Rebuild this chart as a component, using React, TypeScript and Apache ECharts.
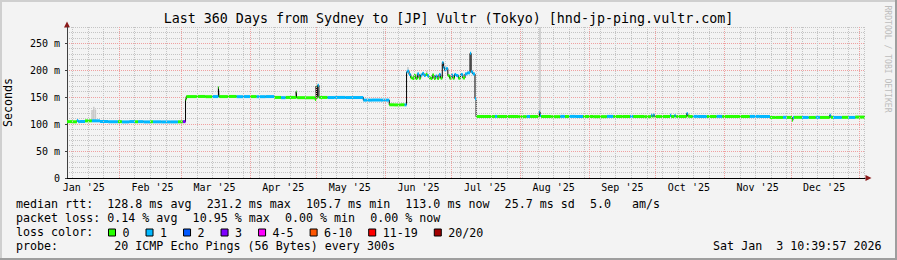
import { useEffect, useRef } from "react";
import * as echarts from "echarts";

const FONT = "'DejaVu Sans Mono', 'Liberation Mono', monospace";

const TITLE = "Last 360 Days from Sydney to [JP] Vultr (Tokyo) [hnd-jp-ping.vultr.com]";
const END_TIME = "2026-01-03 10:39:57";
const SPAN_DAYS = 360;
const DATE_TEXT = "Sat Jan  3 10:39:57 2026";
const WATERMARK = "RRDTOOL / TOBI OETIKER";
const Y_NAME = "Seconds";

const monthLabels = ["Jan '25", "Feb '25", "Mar '25", "Apr '25", "May '25", "Jun '25", "Jul '25", "Aug '25", "Sep '25", "Oct '25", "Nov '25", "Dec '25"];
const monthLabelTimes = ["2025-01-16", "2025-02-16", "2025-03-16", "2025-04-16", "2025-05-16", "2025-06-16", "2025-07-16", "2025-08-16", "2025-09-16", "2025-10-16", "2025-11-16", "2025-12-16"];
const monthGridTimes = ["2025-02-01", "2025-03-01", "2025-04-01", "2025-05-01", "2025-06-01", "2025-07-01", "2025-08-01", "2025-09-01", "2025-10-01", "2025-11-01", "2025-12-01", "2026-01-01"];
const FIRST_WEEK_LINE = "2025-01-11";

const Y_MAX = 280;
const Y_MAJOR = 50;
const Y_MINOR = 10;

const lossNames = ["0", "1", "2", "3", "4-5", "6-10", "11-19", "20/20"];
const lossColors = ["#26ff00", "#00b8ff", "#0059ff", "#7e00ff", "#ff00ff", "#ff5500", "#ff0000", "#a10000"];

// [end of interval, median rtt (ms), loss bucket index]
const medianWinter: [string, number, number][] = [
  ["2025-01-08 11", 104.5, 0],
  ["2025-01-11 00", 104.5, 0],
  ["2025-01-12 22", 104.2, 0],
  ["2025-01-13 12", 106.5, 1],
  ["2025-01-14 08", 104.5, 1],
  ["2025-01-16 14", 104.8, 1],
  ["2025-01-19 16", 106.0, 0],
  ["2025-01-23 08", 106.0, 1],
  ["2025-01-27 00", 104.8, 1],
  ["2025-01-31 10", 104.3, 1],
  ["2025-02-02 05", 104.5, 0],
  ["2025-02-05 12", 104.0, 1],
  ["2025-02-08 03", 104.6, 1],
  ["2025-02-09 12", 104.3, 0],
  ["2025-02-12 00", 104.5, 1],
  ["2025-02-14 22", 104.0, 1],
  ["2025-02-16 05", 104.3, 0],
  ["2025-02-20 00", 104.2, 1],
  ["2025-02-24 00", 104.0, 1],
  ["2025-02-27 12", 104.0, 1],
  ["2025-03-01 17", 104.2, 0],
  ["2025-03-02 22", 104.5, 3],
];

const medianSpring: [string, number, number][] = [
  ["2025-03-03 06", 146.0, 0],
  ["2025-03-08 00", 151.0, 0],
  ["2025-03-12 00", 151.2, 0],
  ["2025-03-15 00", 150.8, 0],
  ["2025-03-17 18", 151.0, 1],
  ["2025-03-18 00", 168.0, 0],
  ["2025-03-18 06", 151.0, 0],
  ["2025-03-22 00", 151.0, 0],
  ["2025-03-26 00", 151.2, 0],
  ["2025-03-29 00", 150.8, 1],
  ["2025-04-01 00", 151.0, 1],
  ["2025-04-04 00", 151.0, 0],
  ["2025-04-08 00", 150.8, 1],
  ["2025-04-12 00", 151.0, 1],
  ["2025-04-15 00", 149.4, 0],
  ["2025-04-17 00", 149.0, 1],
  ["2025-04-21 20", 149.4, 0],
  ["2025-04-22 01", 160.0, 0],
  ["2025-04-22 06", 149.2, 0],
  ["2025-04-26 00", 149.0, 0],
  ["2025-04-30 08", 148.8, 0],
  ["2025-04-30 20", 145.7, 0],
  ["2025-05-01 02", 170.0, 0],
  ["2025-05-01 12", 149.4, 0],
  ["2025-05-02 02", 172.0, 1],
  ["2025-05-02 08", 149.4, 0],
  ["2025-05-06 00", 149.4, 0],
  ["2025-05-09 00", 149.2, 1],
  ["2025-05-14 00", 149.4, 1],
  ["2025-05-17 00", 149.2, 1],
  ["2025-05-22 03", 149.2, 1],
  ["2025-05-26 00", 144.4, 1],
  ["2025-05-30 00", 144.6, 1],
  ["2025-06-02 20", 144.4, 1],
  ["2025-06-05 00", 135.8, 0],
  ["2025-06-08 00", 135.6, 0],
  ["2025-06-09 18", 135.8, 0],
  ["2025-06-10 15", 135.6, 1],
];

const medianSummer: [string, number, number][] = [
  ["2025-06-11 00", 196.5, 1],
  ["2025-06-11 18", 198.0, 1],
  ["2025-06-12 12", 192.0, 1],
  ["2025-06-13 06", 186.0, 0],
  ["2025-06-14 00", 184.5, 0],
  ["2025-06-14 18", 190.0, 0],
  ["2025-06-15 12", 184.5, 0],
  ["2025-06-16 06", 193.0, 1],
  ["2025-06-17 00", 185.0, 0],
  ["2025-06-17 18", 191.0, 1],
  ["2025-06-18 12", 194.0, 1],
  ["2025-06-19 06", 190.0, 1],
  ["2025-06-20 00", 192.0, 0],
  ["2025-06-20 18", 189.5, 1],
  ["2025-06-21 12", 186.0, 0],
  ["2025-06-22 06", 184.5, 0],
  ["2025-06-23 00", 191.0, 0],
  ["2025-06-23 18", 184.5, 0],
  ["2025-06-24 12", 189.0, 1],
  ["2025-06-25 06", 184.5, 0],
  ["2025-06-26 00", 192.0, 1],
  ["2025-06-26 18", 185.0, 0],
  ["2025-06-27 06", 214.0, 1],
  ["2025-06-27 18", 205.0, 1],
  ["2025-06-28 12", 200.0, 1],
  ["2025-06-29 06", 203.0, 1],
  ["2025-06-30 00", 190.0, 0],
  ["2025-06-30 18", 185.0, 0],
  ["2025-07-01 12", 191.0, 1],
  ["2025-07-02 06", 185.0, 0],
  ["2025-07-03 00", 192.0, 1],
  ["2025-07-04 00", 190.0, 1],
  ["2025-07-05 00", 185.0, 0],
  ["2025-07-06 00", 192.0, 1],
  ["2025-07-07 00", 185.5, 0],
  ["2025-07-08 00", 193.0, 1],
  ["2025-07-09 06", 195.0, 1],
  ["2025-07-09 18", 231.2, 1],
  ["2025-07-10 12", 197.0, 1],
  ["2025-07-11 12", 193.0, 1],
  ["2025-07-12 00", 147.0, 1],
  ["2025-07-12 08", 113.5, 0],
];

const medianAutumn: [string, number, number][] = [
  ["2025-07-16 00", 114.0, 0],
  ["2025-07-20 12", 114.0, 0],
  ["2025-07-21 12", 114.2, 1],
  ["2025-07-26 00", 114.0, 0],
  ["2025-07-31 00", 114.0, 0],
  ["2025-08-03 20", 113.8, 0],
  ["2025-08-05 08", 114.0, 1],
  ["2025-08-09 12", 114.0, 0],
  ["2025-08-09 20", 122.5, 1],
  ["2025-08-10 06", 116.0, 1],
  ["2025-08-10 16", 114.0, 0],
  ["2025-08-15 00", 114.0, 0],
  ["2025-08-19 00", 113.8, 0],
  ["2025-08-21 00", 114.2, 1],
  ["2025-08-23 00", 114.0, 0],
  ["2025-08-26 00", 114.2, 1],
  ["2025-08-29 06", 114.0, 1],
  ["2025-09-03 00", 114.0, 0],
  ["2025-09-09 00", 113.8, 0],
  ["2025-09-11 20", 114.2, 1],
  ["2025-09-16 00", 114.0, 0],
  ["2025-09-19 10", 114.0, 0],
  ["2025-09-20 20", 114.2, 1],
  ["2025-09-26 00", 114.0, 0],
  ["2025-09-29 00", 113.8, 0],
  ["2025-09-29 12", 116.5, 1],
  ["2025-09-30 00", 114.0, 0],
  ["2025-09-30 12", 117.0, 1],
  ["2025-10-01 00", 114.2, 0],
  ["2025-10-03 00", 114.0, 0],
  ["2025-10-07 12", 114.0, 0],
  ["2025-10-08 00", 116.5, 1],
  ["2025-10-09 12", 114.0, 0],
  ["2025-10-10 00", 116.0, 1],
  ["2025-10-10 12", 114.0, 0],
  ["2025-10-15 00", 114.0, 0],
  ["2025-10-15 12", 119.5, 1],
  ["2025-10-16 12", 114.5, 0],
  ["2025-10-17 18", 114.0, 0],
  ["2025-10-20 00", 114.2, 1],
  ["2025-10-24 00", 114.0, 1],
  ["2025-10-28 12", 114.0, 0],
  ["2025-10-31 00", 114.2, 1],
  ["2025-11-04 22", 114.0, 0],
  ["2025-11-08 00", 114.0, 0],
  ["2025-11-12 12", 114.0, 0],
  ["2025-11-17 00", 114.2, 1],
  ["2025-11-21 14", 114.0, 1],
  ["2025-11-24 00", 112.3, 0],
  ["2025-11-27 10", 112.3, 0],
  ["2025-11-29 00", 112.5, 1],
  ["2025-12-01 12", 112.3, 0],
  ["2025-12-01 22", 107.0, 0],
  ["2025-12-02 10", 112.3, 1],
  ["2025-12-06 00", 112.5, 0],
  ["2025-12-09 00", 112.3, 1],
  ["2025-12-12 06", 112.3, 0],
  ["2025-12-14 02", 112.5, 1],
  ["2025-12-18 12", 112.3, 0],
  ["2025-12-19 00", 116.5, 1],
  ["2025-12-20 00", 112.5, 0],
  ["2025-12-24 00", 112.3, 1],
  ["2025-12-27 00", 112.5, 0],
  ["2025-12-30 00", 112.3, 1],
  ["2026-01-03 10", 113.0, 0],
];

// [time, low ms, high ms] of the grey smoke
const smokePoints: [string, number, number][] = [
  ["2025-01-19 18", 106, 126],
  ["2025-01-20 12", 106, 132],
  ["2025-01-21 06", 106, 127],
  ["2025-06-11 06", 197, 206],
  ["2025-06-19 18", 191, 199],
  ["2025-06-27 12", 205, 213],
  ["2025-06-28 06", 200, 209],
  ["2025-08-09 20", 118, 300],
];

const rttStats = ["median rtt:  128.8 ms avg", "231.2 ms max", "105.7 ms min", "113.0 ms now", "25.7 ms sd", "5.0   am/s"];
const lossStats = ["packet loss: 0.14 % avg", "10.95 % max", "0.00 % min", "0.00 % now"];
const LOSS_COLOR_LABEL = "loss color:";
const PROBE_TEXT = "probe:        20 ICMP Echo Pings (56 Bytes) every 300s";

function parseTime(s: string): number {
  const [d, t] = s.split(" ");
  const [Y, M, D] = d.split("-").map(Number);
  const [h = 0, m = 0, sec = 0] = (t || "0").split(":").map(Number);
  return Date.UTC(Y, M - 1, D, h, m, sec);
}

const nb = (s: string) => s.replace(/ /g, "\u00A0");

export default function App() {
  const ref = useRef<HTMLDivElement>(null);

  useEffect(() => {
    const el = ref.current!;
    const chart = echarts.init(el, undefined, { renderer: "svg" });
    const DAY = 86400000;
    const endMs = parseTime(END_TIME);
    const startMs = endMs - SPAN_DAYS * DAY;

    const median = [...medianWinter, ...medianSpring, ...medianSummer, ...medianAutumn].map(([t, v, l]) => ({ t: parseTime(t), v, l }));

    const labelMs = monthLabelTimes.map(parseTime);
    const labelMap = new Map<number, string>();
    labelMs.forEach((m, i) => labelMap.set(m, monthLabels[i]));

    const GRAY = "#c4c4c4";
    const RED = "#f0a0a0";
    const gridLines: any[] = [];
    for (let t = parseTime(FIRST_WEEK_LINE); t < endMs; t += 7 * DAY) {
      gridLines.push({ xAxis: t, lineStyle: { color: GRAY, type: [1, 1], width: 1 } });
    }
    monthGridTimes.forEach((s) => gridLines.push({ xAxis: parseTime(s), lineStyle: { color: RED, type: [1, 1], width: 1 } }));

    const lossSeries = lossNames.map((name, k) => {
      const data: number[][] = [];
      for (let i = 1; i < median.length; i++) {
        if (median[i].l === k) data.push([median[i - 1].t, median[i].t, median[i].v]);
      }
      const color = lossColors[k];
      return {
        name,
        type: "custom",
        color,
        itemStyle: { color },
        clip: true,
        silent: true,
        z: 4,
        encode: { x: [0, 1], y: 2 },
        data,
        renderItem: (_p: any, api: any) => {
          const a = api.coord([api.value(0), api.value(2)]);
          const b = api.coord([api.value(1), api.value(2)]);
          return { type: "line", shape: { x1: a[0], y1: a[1], x2: b[0], y2: b[1] }, style: { stroke: color, lineWidth: 3 } };
        },
      };
    });

    const CH = 11.67;
    const CW = CH * 0.6021;
    const GAP = 15;
    const statTexts: any[] = [];
    const placeItems = (items: string[], y: number) => {
      let x = 16;
      items.forEach((s) => {
        statTexts.push({ type: "text", x, y, style: { text: nb(s), font: `${CH}px ${FONT}`, fill: "#000", textAlign: "left", textVerticalAlign: "middle" } });
        x += s.length * CW + GAP;
      });
    };
    placeItems(rttStats, 204.3);
    placeItems(lossStats, 218.3);
    placeItems([LOSS_COLOR_LABEL], 232.3);
    placeItems([PROBE_TEXT], 246.2);
    statTexts.push({ type: "text", x: 881.5, y: 246.2, style: { text: nb(DATE_TEXT), font: `${CH}px ${FONT}`, fill: "#000", textAlign: "right", textVerticalAlign: "middle" } });

    const ARROW = "#8b1a1a";

    const option: any = {
      animation: false,
      backgroundColor: "#f3f3f3",
      title: {
        text: TITLE,
        left: "center",
        top: 12,
        padding: 0,
        textStyle: { fontFamily: FONT, fontSize: 13.33, fontWeight: "normal", color: "#000" },
      },
      grid: { left: 67, right: 32, top: 27, bottom: 82, containLabel: false, outerBoundsMode: "none" },
      legend: {
        data: lossNames,
        left: 108,
        top: 226.5,
        padding: 0,
        icon: "rect",
        itemWidth: 7,
        itemHeight: 7,
        itemGap: 16,
        selectedMode: false,
        itemStyle: { borderColor: "#000", borderWidth: 1 },
        textStyle: { fontFamily: FONT, fontSize: CH, color: "#000", padding: [0, 0, 0, 2] },
      },
      xAxis: {
        type: "value",
        min: startMs,
        max: endMs,
        axisLine: { show: true, lineStyle: { color: "#000", width: 1 } },
        axisTick: { show: false },
        splitLine: { show: false },
        axisLabel: {
          customValues: labelMs,
          formatter: (v: number) => labelMap.get(v) ?? "",
          fontFamily: FONT,
          fontSize: 10,
          color: "#000",
          margin: 4,
          hideOverlap: false,
        },
      },
      yAxis: [
        {
          type: "value",
          min: 0,
          max: Y_MAX,
          interval: Y_MINOR,
          axisLine: { show: false },
          axisTick: { show: false },
          axisLabel: { show: false },
          splitLine: { show: true, lineStyle: { color: GRAY, type: [1, 1], width: 1 } },
        },
        {
          type: "value",
          min: 0,
          max: Y_MAX,
          interval: Y_MAJOR,
          position: "left",
          name: Y_NAME,
          nameLocation: "middle",
          nameGap: 53,
          nameTextStyle: { fontFamily: FONT, fontSize: CH, color: "#000" },
          axisLine: { show: true, lineStyle: { color: "#404040", width: 1 } },
          axisTick: { show: true, length: 2, lineStyle: { color: "#404040" } },
          axisLabel: {
            fontFamily: FONT,
            fontSize: 10,
            color: "#000",
            margin: 7,
            showMaxLabel: false,
            formatter: (v: number) => (v === 0 ? "0" : `${v} m`),
          },
          splitLine: { show: true, showMaxLine: false, showMinLine: false, lineStyle: { color: RED, type: [1, 1], width: 1 } },
        },
      ],
      graphic: [
        { type: "rect", shape: { x: 0, y: 0, width: 897, height: 2 }, style: { fill: "#cfcfcf" }, silent: true },
        { type: "rect", shape: { x: 0, y: 0, width: 2, height: 260 }, style: { fill: "#cfcfcf" }, silent: true },
        { type: "rect", shape: { x: 0, y: 258, width: 897, height: 2 }, style: { fill: "#9e9e9e" }, silent: true },
        { type: "rect", shape: { x: 895, y: 0, width: 2, height: 260 }, style: { fill: "#9e9e9e" }, silent: true },
        { type: "polygon", shape: { points: [[67, 21.5], [64, 27.5], [70, 27.5]] }, style: { fill: ARROW }, silent: true },
        { type: "polygon", shape: { points: [[871.5, 178], [865.5, 175], [865.5, 181]] }, style: { fill: ARROW }, silent: true },
        {
          type: "text",
          x: 887.5,
          y: 59,
          rotation: -Math.PI / 2,
          silent: true,
          style: { text: WATERMARK, font: `8.1px ${FONT}`, fill: "#bdbdbd", textAlign: "center", textVerticalAlign: "middle" },
        },
        ...statTexts,
      ],
      series: [
        {
          type: "line",
          data: [],
          z: 1,
          silent: true,
          markLine: { silent: true, symbol: ["none", "none"], label: { show: false }, animation: false, data: gridLines },
        },
        {
          type: "custom",
          z: 2,
          clip: true,
          silent: true,
          encode: { x: 0, y: [1, 2] },
          data: smokePoints.map(([t, lo, hi]) => [parseTime(t), lo, hi]),
          renderItem: (_p: any, api: any) => {
            const a = api.coord([api.value(0), api.value(1)]);
            const b = api.coord([api.value(0), api.value(2)]);
            return { type: "rect", shape: { x: a[0] - 0.75, y: b[1], width: 1.5, height: a[1] - b[1] }, style: { fill: "#c8c8c8" } };
          },
        },
        {
          type: "line",
          step: "start",
          z: 3,
          silent: true,
          showSymbol: false,
          symbol: "none",
          clip: true,
          lineStyle: { color: "#000", width: 1 },
          data: median.map((p) => [p.t, p.v]),
        },
        ...lossSeries,
      ],
    };

    chart.setOption(option);
    return () => chart.dispose();
  }, []);

  return <div ref={ref} style={{ position: "absolute", left: 0, top: 0, width: 897, height: 260 }} />;
}
